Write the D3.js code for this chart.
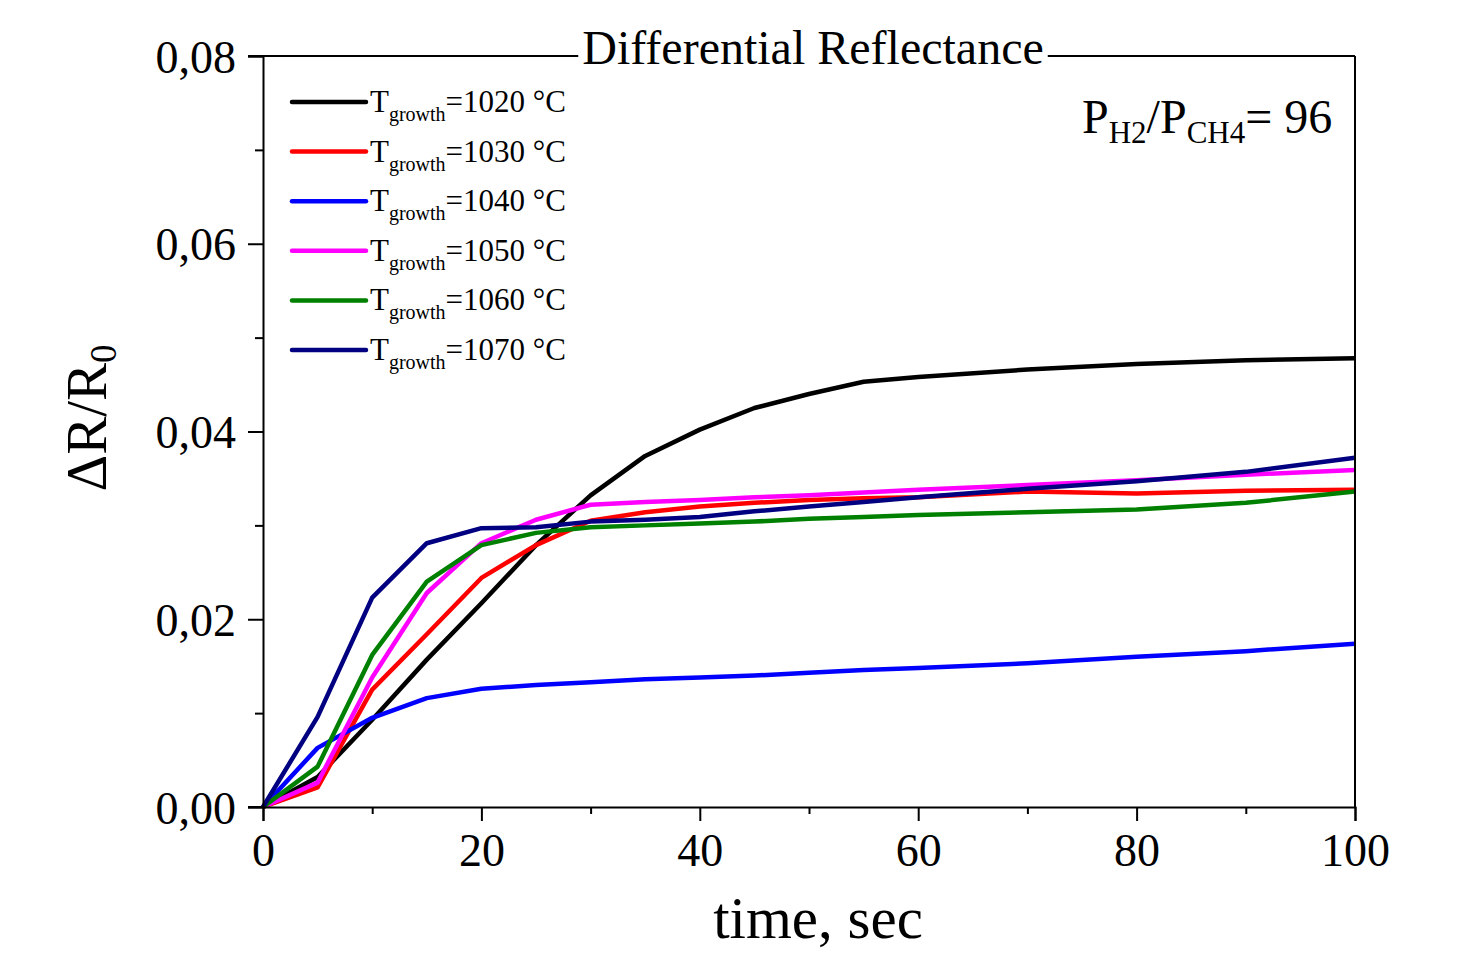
<!DOCTYPE html>
<html lang="en">
<head>
<meta charset="utf-8">
<title>Differential Reflectance</title>
<script src="https://d3js.org/d3.v7.min.js"></script>
<style>
  body { margin: 0; background: #fff; }
  text { font-family: "Liberation Serif", "Times New Roman", serif; fill: #000; }
</style>
</head>
<body>
<svg id="chart"></svg>
<script>
var w = 1463, h = 955;
var margin = {top: 56, right: 108, bottom: 148, left: 263};

// time points, sec
var times = [0, 5, 10, 15, 20, 25, 30, 35, 40, 45, 50, 55, 60, 70, 80, 90, 100];
var labels = ['1020', '1030', '1040', '1050', '1060', '1070'];
var colors = ['#000000', '#ff0000', '#0000ff', '#ff00ff', '#008000', '#000080'];
var t1020 = [0, 0.0032, 0.0093, 0.0157, 0.0217, 0.0279, 0.0332, 0.0374, 0.0402, 0.0425, 0.0440, 0.0453, 0.0458, 0.0466, 0.0472, 0.0476, 0.0478];
var t1030 = [0, 0.0021, 0.0125, 0.0184, 0.0244, 0.0279, 0.0305, 0.0314, 0.0320, 0.0324, 0.0327, 0.0329, 0.0330, 0.0336, 0.0334, 0.0337, 0.0338];
var t1040 = [0, 0.0063, 0.0095, 0.0116, 0.0126, 0.0130, 0.0133, 0.0136, 0.0138, 0.0140, 0.0143, 0.0146, 0.0148, 0.0153, 0.0160, 0.0166, 0.0174];
var t1050 = [0, 0.0026, 0.0138, 0.0228, 0.0281, 0.0306, 0.0322, 0.0325, 0.0327, 0.0330, 0.0332, 0.0335, 0.0338, 0.0343, 0.0348, 0.0354, 0.0359];
var t1060 = [0, 0.0043, 0.0162, 0.0240, 0.0279, 0.0292, 0.0298, 0.0300, 0.0302, 0.0304, 0.0307, 0.0309, 0.0311, 0.0314, 0.0317, 0.0324, 0.0336];
var t1070 = [0, 0.0096, 0.0223, 0.0281, 0.0297, 0.0298, 0.0304, 0.0306, 0.0309, 0.0315, 0.0320, 0.0325, 0.0330, 0.0339, 0.0347, 0.0357, 0.0372];
var series = [t1020, t1030, t1040, t1050, t1060, t1070];
var xTicks = [0, 20, 40, 60, 80, 100];
var yTicks = [0, 0.02, 0.04, 0.06, 0.08];

var svg = d3.select('#chart').attr('width', w).attr('height', h);
var iw = w - margin.left - margin.right;
var ih = h - margin.top - margin.bottom;

var x = d3.scaleLinear().domain([0, 100]).range([0, iw]);
var y = d3.scaleLinear().domain([0, 0.08]).range([ih, 0]);

var g = svg.append('g').attr('transform', 'translate(' + margin.left + ',' + margin.top + ')');

// curves
var line = d3.line().x((d, i) => x(times[i])).y(d => y(d));
g.selectAll('.curve').data(series).enter().append('path')
  .attr('class', 'curve')
  .attr('d', d => line(d))
  .attr('fill', 'none')
  .attr('stroke', (d, i) => colors[i])
  .attr('stroke-width', 4.5)
  .attr('stroke-linejoin', 'round');

// frame: right and top
g.append('line').attr('x1', iw).attr('x2', iw).attr('y1', 0).attr('y2', ih)
  .attr('stroke', '#000').attr('stroke-width', 2);
g.append('line').attr('x1', -15).attr('x2', iw).attr('y1', 0).attr('y2', 0)
  .attr('stroke', '#000').attr('stroke-width', 2);

// minor ticks
var xMinor = d3.range(10, 100, 20);
var yMinor = d3.range(0.01, 0.08, 0.02);

var xAxis = d3.axisBottom(x).tickValues(xTicks).tickSize(14).tickPadding(12).tickFormat(d3.format('d'));
var gx = g.append('g').attr('transform', 'translate(0,' + ih + ')').call(xAxis);
g.append('g').attr('transform', 'translate(0,' + ih + ')')
  .call(d3.axisBottom(x).tickValues(xMinor).tickSize(7).tickFormat(''))
  .select('.domain').remove();

var yAxis = d3.axisLeft(y).tickValues(yTicks).tickSize(15).tickPadding(12)
  .tickFormat(d => d3.format('.2f')(d).replace('.', ','));
var gy = g.append('g').call(yAxis);
g.append('g')
  .call(d3.axisLeft(y).tickValues(yMinor).tickSize(8).tickFormat(''))
  .select('.domain').remove();

svg.selectAll('.domain').attr('stroke', '#000').attr('stroke-width', 2);
svg.selectAll('.tick line').attr('stroke', '#000').attr('stroke-width', 2);
gx.selectAll('text').attr('font-size', 46).attr('font-family', '"Liberation Serif", serif');
gy.selectAll('text').attr('font-size', 46).attr('font-family', '"Liberation Serif", serif').attr('dy', '0.35em');

// extend bottom axis line outwards to the left
g.append('line').attr('x1', -15).attr('x2', 0).attr('y1', ih).attr('y2', ih)
  .attr('stroke', '#000').attr('stroke-width', 2);

// title over the top frame
var title = svg.append('text').attr('x', 813).attr('y', 64)
  .attr('text-anchor', 'middle').attr('font-size', 48).text('Differential Reflectance');
var bb = title.node().getBBox();
svg.append('rect').attr('x', bb.x - 4).attr('y', margin.top - 3)
  .attr('width', bb.width + 8).attr('height', 6).attr('fill', '#fff');
title.raise();

// axis titles
svg.append('text').attr('x', 818).attr('y', 938).attr('text-anchor', 'middle')
  .attr('font-size', 59).text('time, sec');

var yl = svg.append('text').attr('transform', 'translate(106,418) rotate(-90)')
  .attr('text-anchor', 'middle').attr('font-size', 57);
yl.append('tspan').text('\u0394R/R');
yl.append('tspan').attr('font-size', 37).attr('dy', 10).text('0');

// annotation
var ann = svg.append('text').attr('x', 1082).attr('y', 133).attr('font-size', 48);
ann.append('tspan').text('P');
ann.append('tspan').attr('font-size', 31).attr('dy', 10).text('H2');
ann.append('tspan').attr('dy', -10).text('/P');
ann.append('tspan').attr('font-size', 31).attr('dy', 10).text('CH4');
ann.append('tspan').attr('dy', -10).text('= 96');

// legend
var leg = svg.append('g').attr('transform', 'translate(292,102)');
var items = leg.selectAll('.item').data(labels).enter().append('g')
  .attr('class', 'item')
  .attr('transform', (d, i) => 'translate(0,' + (i * 49.6) + ')');
items.append('line').attr('x1', 0).attr('x2', 74).attr('y1', 0).attr('y2', 0)
  .attr('stroke', (d, i) => colors[i]).attr('stroke-width', 4.5).attr('stroke-linecap', 'round');
var lt = items.append('text').attr('x', 78).attr('y', 10).attr('font-size', 31);
lt.append('tspan').text('T');
lt.append('tspan').attr('font-size', 20).attr('dy', 9).text('growth');
lt.append('tspan').attr('dy', -9).text(d => '=' + d + ' \u00B0C');
</script>
</body>
</html>
